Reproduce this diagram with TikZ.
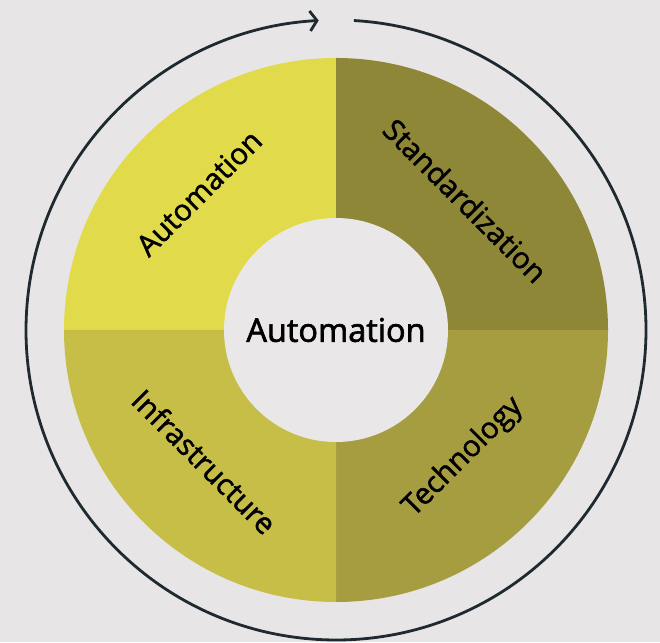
\documentclass[tikz,border=0pt]{standalone}
\usepackage{fontspec}
\setmainfont{Open Sans}[FakeBold=1.6]
\newfontfamily\hubfont{Open Sans}[FakeBold=2]
\usetikzlibrary{arrows.meta}
\definecolor{bgcol}{HTML}{E8E5E6}
\definecolor{holecol}{HTML}{E9E7E8}
\definecolor{autocol}{HTML}{E1DA4B}
\definecolor{stdcol}{HTML}{8E8737}
\definecolor{infcol}{HTML}{C7BE48}
\definecolor{techcol}{HTML}{A59D3F}
\definecolor{ringcol}{HTML}{1E2A30}
\tikzstyle{pillar}=[inner sep=0pt, font=\fontsize{29.5}{32}\selectfont, text=black]
\tikzstyle{hub}=[circle, fill=holecol, minimum size=224pt, inner sep=0pt,
  font=\hubfont\fontsize{32.5}{35}\selectfont]
\tikzstyle{cycle}=[ringcol, line width=2.8pt, -{Straight Barb[length=7pt,width=20pt,line width=2.8pt]}]

\begin{document}
\begin{tikzpicture}[x=1pt,y=1pt]
\fill[bgcol] (0,0) rectangle (660,642);
\useasboundingbox (0,0) rectangle (660,642);
\coordinate (c) at (336,312);
% four quarters of the wheel
\fill[autocol] (c) -- ++(180:272) arc (180:90:272) -- cycle;
\fill[stdcol]  (c) -- ++(90:272) arc (90:0:272) -- cycle;
\fill[techcol] (c) -- ++(0:272) arc (0:-90:272) -- cycle;
\fill[infcol]  (c) -- ++(-90:272) arc (-90:-180:272) -- cycle;
% the hole in the middle
\node [hub] (hub) at (c) {Automation};
% labels of the quarters
\node [pillar, rotate=45]  (auto) at ([shift={(135:194)}]c) {Automation};
\node [pillar, rotate=-45] (std)  at ([shift={(45:183)}]c) {Standardization};
\node [pillar, rotate=-45] (infra) at ([shift={(225:186)}]c) {Infrastructure};
\node [pillar, rotate=45]  (tech) at ([shift={(-45:180)}]c) {Technology};
% the cycle round it
\draw [cycle] ([shift={(86.7:310)}]c) arc (86.7:-266.8:310);
\end{tikzpicture}
\end{document}
